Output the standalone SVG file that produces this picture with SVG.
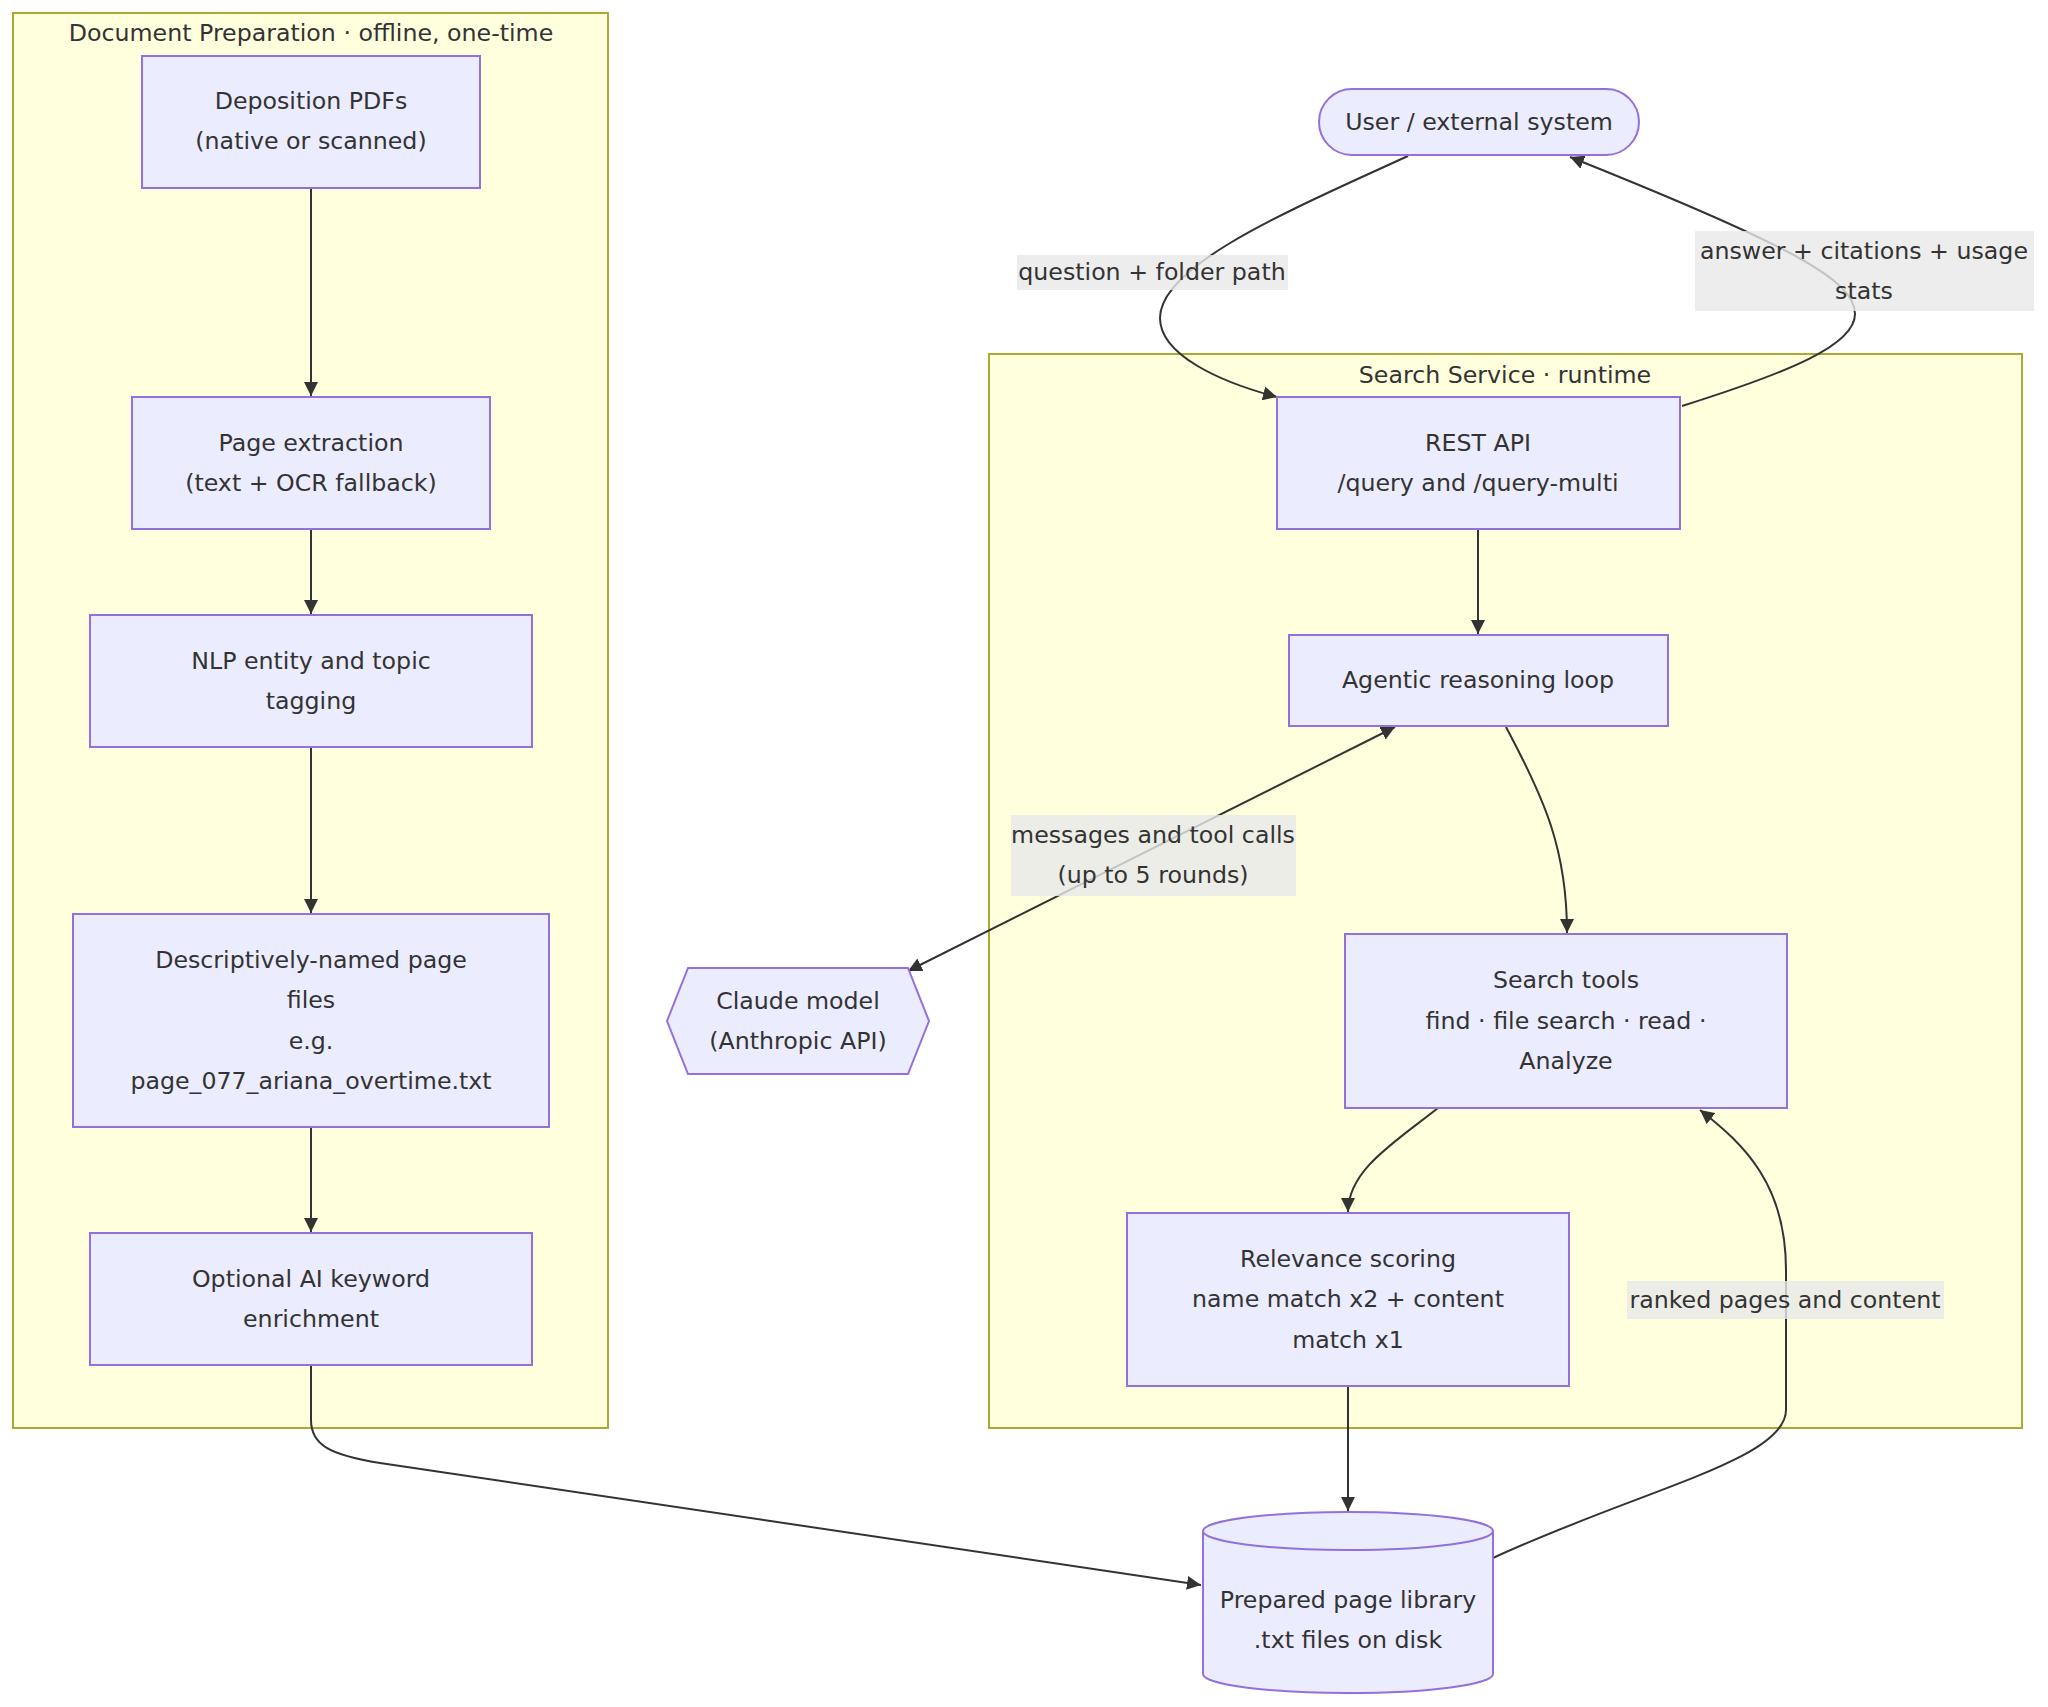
<svg xmlns="http://www.w3.org/2000/svg" width="2048" height="1707" viewBox="0 0 2048 1707">
<defs>
<style>
.cl{fill:#ffffde;stroke:#aaaa33;stroke-width:2}
.nd{fill:#ECECFF;stroke:#9370DB;stroke-width:2}
.t{font-family:"DejaVu Sans",Verdana,sans-serif;font-size:23.7px;fill:#333;text-anchor:middle;dominant-baseline:central}
.e{fill:none;stroke:#333;stroke-width:2}
.lb{fill:rgba(232,232,232,0.8)}
</style>
<marker id="ah" viewBox="0 0 10 10" refX="10" refY="5" markerWidth="14" markerHeight="14" markerUnits="userSpaceOnUse" orient="auto-start-reverse">
<path d="M0,0 L10,5 L0,10 z" fill="#333"/>
</marker>
</defs>
<rect width="2048" height="1707" fill="#fff"/>

<g id="cluster-prep">
<rect class="cl" x="13" y="13" width="595" height="1415"/>
<text class="t" x="311" y="33">Document Preparation · offline, one-time</text>
</g>
<g id="cluster-search">
<rect class="cl" x="989" y="354" width="1033" height="1074"/>
<text class="t" x="1505" y="375">Search Service · runtime</text>
</g>

<g id="edges">
<path class="e" d="M311,188 L311,396" marker-end="url(#ah)"/>
<path class="e" d="M311,529 L311,614" marker-end="url(#ah)"/>
<path class="e" d="M311,747 L311,913" marker-end="url(#ah)"/>
<path class="e" d="M311,1127 L311,1232" marker-end="url(#ah)"/>
<path class="e" d="M311,1365 L311,1420 C311,1445 330,1455 380,1463 L1201,1585" marker-end="url(#ah)"/>
<path class="e" d="M1408,156 C1290,210 1160,265 1160,318 C1160,355 1220,382 1277,397" marker-end="url(#ah)"/>
<path class="e" d="M1682,406 C1790,372 1855,345 1855,314 C1855,280 1790,245 1570,157" marker-end="url(#ah)"/>
<path class="e" d="M1478,529 L1478,634" marker-end="url(#ah)"/>
<path class="e" d="M1506,727 C1545,800 1567,850 1567,933" marker-end="url(#ah)"/>
<path class="e" d="M908,971 L1395,727" marker-start="url(#ah)" marker-end="url(#ah)"/>
<path class="e" d="M1438,1108 C1395,1142 1348,1170 1348,1212" marker-end="url(#ah)"/>
<path class="e" d="M1348,1386 L1348,1511" marker-end="url(#ah)"/>
<path class="e" d="M1493,1558 C1640,1490 1786,1460 1786,1410 L1786,1270 C1786,1185 1745,1145 1700,1110" marker-end="url(#ah)"/>
</g>

<g id="edge-labels">
<rect class="lb" x="1017" y="255" width="271" height="35"/>
<text class="t" x="1152" y="272">question + folder path</text>
<rect class="lb" x="1695" y="231" width="339" height="80"/>
<text class="t" x="1864" y="251">answer + citations + usage</text>
<text class="t" x="1864" y="291">stats</text>
<rect class="lb" x="1011" y="815" width="285" height="81"/>
<text class="t" x="1153" y="835">messages and tool calls</text>
<text class="t" x="1153" y="875">(up to 5 rounds)</text>
<rect class="lb" x="1627" y="1281" width="317" height="38"/>
<text class="t" x="1785" y="1300">ranked pages and content</text>
</g>

<g id="n-deposition">
<rect class="nd" x="142" y="56" width="338" height="132"/>
<text class="t" x="311" y="101">Deposition PDFs</text>
<text class="t" x="311" y="141">(native or scanned)</text>
</g>
<g id="n-extract">
<rect class="nd" x="132" y="397" width="358" height="132"/>
<text class="t" x="311" y="443">Page extraction</text>
<text class="t" x="311" y="483">(text + OCR fallback)</text>
</g>
<g id="n-nlp">
<rect class="nd" x="90" y="615" width="442" height="132"/>
<text class="t" x="311" y="661">NLP entity and topic</text>
<text class="t" x="311" y="701">tagging</text>
</g>
<g id="n-named">
<rect class="nd" x="73" y="914" width="476" height="213"/>
<text class="t" x="311" y="960">Descriptively-named page</text>
<text class="t" x="311" y="1000">files</text>
<text class="t" x="311" y="1041">e.g.</text>
<text class="t" x="311" y="1081">page_077_ariana_overtime.txt</text>
</g>
<g id="n-enrich">
<rect class="nd" x="90" y="1233" width="442" height="132"/>
<text class="t" x="311" y="1279">Optional AI keyword</text>
<text class="t" x="311" y="1319">enrichment</text>
</g>
<g id="n-user">
<rect class="nd" x="1319" y="89" width="320" height="66" rx="33" ry="33"/>
<text class="t" x="1479" y="122">User / external system</text>
</g>
<g id="n-rest">
<rect class="nd" x="1277" y="397" width="403" height="132"/>
<text class="t" x="1478" y="443">REST API</text>
<text class="t" x="1478" y="483">/query and /query-multi</text>
</g>
<g id="n-agent">
<rect class="nd" x="1289" y="635" width="379" height="91"/>
<text class="t" x="1478" y="680">Agentic reasoning loop</text>
</g>
<g id="n-tools">
<rect class="nd" x="1345" y="934" width="442" height="174"/>
<text class="t" x="1566" y="980">Search tools</text>
<text class="t" x="1566" y="1021">find · file search · read ·</text>
<text class="t" x="1566" y="1061">Analyze</text>
</g>
<g id="n-score">
<rect class="nd" x="1127" y="1213" width="442" height="173"/>
<text class="t" x="1348" y="1259">Relevance scoring</text>
<text class="t" x="1348" y="1299">name match x2 + content</text>
<text class="t" x="1348" y="1340">match x1</text>
</g>
<g id="n-claude">
<polygon class="nd" points="667,1021 688,968 908,968 929,1021 908,1074 688,1074"/>
<text class="t" x="798" y="1001">Claude model</text>
<text class="t" x="798" y="1041">(Anthropic API)</text>
</g>
<g id="n-library">
<path class="nd" d="M1203,1531 a145,19 0 0 0 290,0 a145,19 0 0 0 -290,0 l0,143 a145,19 0 0 0 290,0 l0,-143"/>
<text class="t" x="1348" y="1600">Prepared page library</text>
<text class="t" x="1348" y="1640">.txt files on disk</text>
</g>
</svg>
